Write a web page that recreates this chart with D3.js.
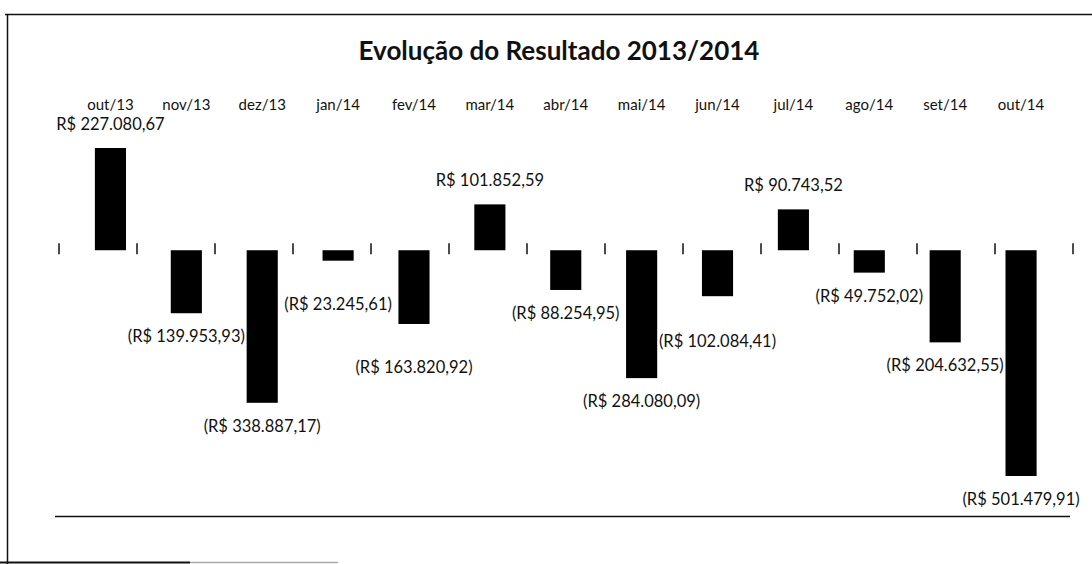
<!DOCTYPE html>
<html>
<head>
<meta charset="utf-8">
<script src="https://cdn.jsdelivr.net/npm/d3@7/dist/d3.min.js"></script>
<style>
  html, body { margin: 0; padding: 0; background: #fff; }
  svg { display: block; }
  text { font-family: Lato, "Liberation Sans", sans-serif; fill: #111; }
</style>
</head>
<body>
<svg id="chart" width="1092" height="564"></svg>
<script>
// Monthly result, Oct 2013 – Oct 2014 (R$)
const months = ["out/13", "nov/13", "dez/13", "jan/14", "fev/14", "mar/14", "abr/14",
                "mai/14", "jun/14", "jul/14", "ago/14", "set/14", "out/14"];
const results = [227080.67, -139953.93, -338887.17, -23245.61, -163820.92, 101852.59, -88254.95,
                 -284080.09, -102084.41, 90743.52, -49752.02, -204632.55, -501479.91];
const chartTitle = "Evolução do Resultado 2013/2014";

const W = 1092, H = 564;
const svg = d3.select("#chart");

// Brazilian currency format; negatives shown in parentheses
const brl = d3.formatLocale({ decimal: ",", thousands: ".", grouping: [3], currency: ["R$ ", ""] })
  .format("$,.2f");
const labelOf = v => v < 0 ? `(${brl(-v)})` : brl(v);

// a few negative labels were pulled further down to keep clear of neighbours
const labelDrop = { "jan/14": 20, "fev/14": 20, "jun/14": 22 };

// Scales
const x = d3.scaleBand()
  .domain(months)
  .range([72.5, 1059])
  .paddingInner(0.59)
  .paddingOuter(0.295);

// category boundaries for the tick marks on the zero line
const tickX = d3.scaleLinear().domain([0, months.length]).range([59, 1073]);

const y = d3.scaleLinear()
  .domain([d3.min(results), d3.max(results)])
  .range([476, 148]);

// Frame
const frame = svg.append("g").attr("stroke", "#111").attr("fill", "none");
frame.append("line").attr("x1", 5).attr("x2", W).attr("y1", 14.5).attr("y2", 14.5).attr("stroke-width", 1.5);
frame.append("line").attr("x1", 7.5).attr("x2", 7.5).attr("y1", 14).attr("y2", H).attr("stroke-width", 1.5);
frame.append("line").attr("x1", 0).attr("x2", 190).attr("y1", 562.5).attr("y2", 562.5).attr("stroke-width", 2);
frame.append("line").attr("x1", 190).attr("x2", 338).attr("y1", 562.5).attr("y2", 562.5)
  .attr("stroke", "#aaa").attr("stroke-width", 1.5);

// Title
svg.append("text")
  .attr("x", 559).attr("y", 60)
  .attr("text-anchor", "middle")
  .attr("font-size", 26).attr("font-weight", "bold")
  .text(chartTitle);

// Category labels across the top
svg.append("g")
  .selectAll("text")
  .data(months)
  .join("text")
  .attr("x", d => x(d) + x.bandwidth() / 2)
  .attr("y", 110)
  .attr("text-anchor", "middle")
  .attr("font-size", 15)
  .text(d => d);

// Tick marks along the zero line
svg.append("g")
  .attr("stroke", "#111").attr("stroke-width", 1.5)
  .selectAll("line")
  .data(d3.range(months.length + 1))
  .join("line")
  .attr("x1", d => tickX(d)).attr("x2", d => tickX(d))
  .attr("y1", y(0) - 7).attr("y2", y(0) + 4);

// Bars
svg.append("g")
  .selectAll("rect")
  .data(results)
  .join("rect")
  .attr("x", (d, i) => x(months[i]))
  .attr("width", x.bandwidth())
  .attr("y", d => y(Math.max(0, d)))
  .attr("height", d => Math.abs(y(d) - y(0)))
  .attr("fill", "#000");

// Value labels
svg.append("g")
  .selectAll("text")
  .data(results)
  .join("text")
  .attr("x", (d, i) => x(months[i]) + x.bandwidth() / 2)
  .attr("y", (d, i) => d >= 0 ? y(d) - 18 : y(d) + 29 + (labelDrop[months[i]] || 0))
  .attr("text-anchor", "middle")
  .attr("font-size", 16.5)
  .text(d => labelOf(d));

// Bottom rule
svg.append("line")
  .attr("x1", 55).attr("x2", 1070)
  .attr("y1", 516.5).attr("y2", 516.5)
  .attr("stroke", "#111").attr("stroke-width", 1.5);
</script>
</body>
</html>
